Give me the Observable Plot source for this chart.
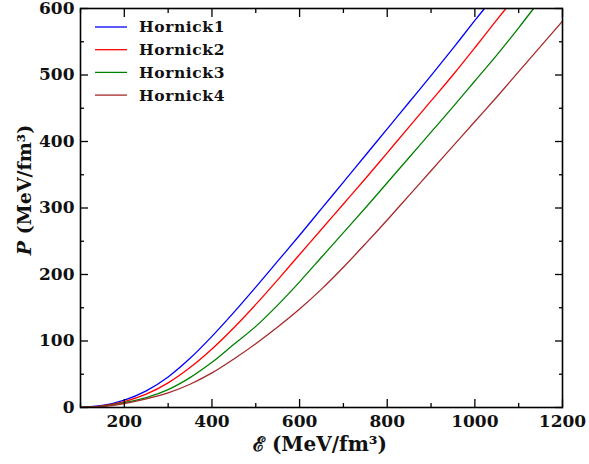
<!DOCTYPE html>
<html>
<head>
<meta charset="utf-8">
<script src="https://cdn.jsdelivr.net/npm/d3@7"></script>
<script src="https://cdn.jsdelivr.net/npm/@observablehq/plot@0.6"></script>
<style>
  html, body { margin: 0; padding: 0; background: #fff; }
  #chart { width: 589px; height: 464px; }
</style>
</head>
<body>
<div id="chart"></div>
<script>
// ---- data ----
const seriesNames = ["Hornick1", "Hornick2", "Hornick3", "Hornick4"];
const seriesColors = ["#0000ff", "#ff0000", "#008000", "#a52a2a"];

const E_h1 = [100, 150, 200, 250, 300, 350, 400, 450, 500, 550, 600, 650, 700, 750, 800, 850, 900, 950, 1000, 1022];
const P_h1 = [0, 3, 11, 25, 46, 74, 107, 143, 181, 220, 259, 299, 339, 379, 419, 459, 499, 540, 582, 600];

const E_h2 = [100, 150, 200, 250, 300, 350, 400, 450, 500, 550, 600, 650, 700, 750, 800, 850, 900, 950, 1000, 1050, 1071];
const P_h2 = [0, 2.5, 9, 20, 37, 60, 88, 120, 155, 192, 230, 268, 306, 344, 383, 422, 461, 500, 541, 583, 600];

const E_h3 = [100, 150, 200, 250, 300, 350, 400, 450, 500, 550, 600, 650, 700, 750, 800, 850, 900, 950, 1000, 1050, 1100, 1134];
const P_h3 = [0, 2, 7.5, 15, 27, 45, 68, 95, 122, 154, 189, 226, 263, 300, 338, 376, 414, 452, 491, 530, 571, 600];

const E_h4 = [100, 150, 200, 250, 300, 350, 400, 450, 500, 550, 600, 650, 700, 750, 800, 850, 900, 950, 1000, 1050, 1100, 1150, 1200];
const P_h4 = [0, 1.5, 6, 13, 22, 35, 52, 73, 96, 121, 148, 178, 211, 246, 282, 319, 356, 393, 430, 467, 505, 543, 581];

const xMajor = [200, 400, 600, 800, 1000, 1200];
const xMinor = [100, 300, 500, 700, 900, 1100];
const yMajor = [0, 100, 200, 300, 400, 500, 600];
const yMinor = [50, 150, 250, 350, 450, 550];

const xLabel = "ℰ (MeV/fm³)";
const yLabelItalic = "P";
const yLabelRest = " (MeV/fm³)";

// ---- build table ----
const Es = [E_h1, E_h2, E_h3, E_h4];
const Ps = [P_h1, P_h2, P_h3, P_h4];
const rows = [];
seriesNames.forEach((name, i) => {
  Es[i].forEach((e, j) => rows.push({ series: name, E: e, P: Ps[i][j] }));
});

const FONT = "'DejaVu Serif', 'Liberation Serif', serif";

const blank = () => "";
const fmt = d3.format("d");
const plot = Plot.plot({
  width: 589,
  height: 464,
  marginLeft: 80,
  marginRight: 27,
  marginTop: 8,
  marginBottom: 57,
  style: { fontFamily: FONT, background: "#fff", overflow: "visible" },
  x: { domain: [100, 1200] },
  y: { domain: [0, 600] },
  color: { domain: seriesNames, range: seriesColors },
  marks: [
    Plot.line(rows, {
      x: "E", y: "P", z: "series", stroke: "series",
      curve: "catmull-rom", strokeWidth: 1.3, clip: true
    }),
    // major/minor ticks (inward) on all sides
    Plot.axisX({ anchor: "bottom", ticks: xMajor, tickSize: -8, tickFormat: blank, label: null, strokeWidth: 1.3 }),
    Plot.axisX({ anchor: "top", ticks: xMajor, tickSize: -8, tickFormat: blank, label: null, strokeWidth: 1.3 }),
    Plot.axisX({ anchor: "bottom", ticks: xMinor, tickSize: -4, tickFormat: blank, label: null, strokeWidth: 1.3 }),
    Plot.axisX({ anchor: "top", ticks: xMinor, tickSize: -4, tickFormat: blank, label: null, strokeWidth: 1.3 }),
    Plot.axisY({ anchor: "left", ticks: yMajor, tickSize: -8, tickFormat: blank, label: null, strokeWidth: 1.3 }),
    Plot.axisY({ anchor: "right", ticks: yMajor, tickSize: -8, tickFormat: blank, label: null, strokeWidth: 1.3 }),
    Plot.axisY({ anchor: "left", ticks: yMinor, tickSize: -4, tickFormat: blank, label: null, strokeWidth: 1.3 }),
    Plot.axisY({ anchor: "right", ticks: yMinor, tickSize: -4, tickFormat: blank, label: null, strokeWidth: 1.3 }),
    // tick labels
    Plot.axisX({ anchor: "bottom", ticks: xMajor, tickSize: 0, tickPadding: 7, label: null, tickFormat: fmt,
      fontSize: 17, fontWeight: "bold", fill: "#111" }),
    Plot.axisY({ anchor: "left", ticks: yMajor, tickSize: 0, tickPadding: 6, label: null, tickFormat: fmt,
      fontSize: 17, fontWeight: "bold", fill: "#111" }),
    Plot.frame({ stroke: "#000", strokeWidth: 1.6 })
  ]
});

document.getElementById("chart").appendChild(plot);

// ---- axis labels and legend ----
const svg = d3.select(plot);

svg.append("text")
  .attr("x", 320).attr("y", 451)
  .attr("text-anchor", "middle")
  .attr("font-family", FONT).attr("font-size", 20).attr("font-weight", "bold")
  .attr("fill", "#111")
  .text(xLabel);

const yl = svg.append("text")
  .attr("transform", "translate(31,190) rotate(-90)")
  .attr("text-anchor", "middle")
  .attr("font-family", FONT).attr("font-size", 19).attr("font-weight", "bold")
  .attr("fill", "#111");
yl.append("tspan").attr("font-style", "italic").text(yLabelItalic);
yl.append("tspan").text(yLabelRest);

const leg = svg.append("g");
seriesNames.forEach((name, i) => {
  const yy = 27 + i * 22.7;
  leg.append("line")
    .attr("x1", 95).attr("x2", 127).attr("y1", yy).attr("y2", yy)
    .attr("stroke", seriesColors[i]).attr("stroke-width", 1.3);
  leg.append("text")
    .attr("x", 139).attr("y", yy).attr("dy", "0.35em")
    .attr("text-anchor", "start")
    .attr("font-family", FONT).attr("font-size", 15.5).attr("font-weight", "bold")
    .attr("letter-spacing", "0.6")
    .attr("fill", "#111")
    .text(name);
});
</script>
</body>
</html>
